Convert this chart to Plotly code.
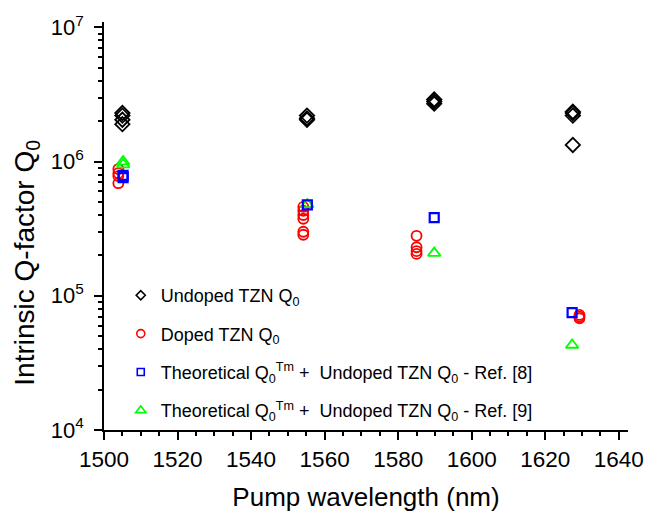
import plotly.graph_objects as go

# ---- data ----
undoped_x = [1505.0, 1505.0, 1505.0, 1505.0, 1555.2, 1555.2, 1555.2, 1589.8, 1589.8, 1589.8, 1627.5, 1627.5, 1627.5, 1627.5]
undoped_y = [2.3e6, 2.2e6, 2.05e6, 1.9e6, 2.2e6, 2.1e6, 2.05e6, 2.9e6, 2.8e6, 2.7e6, 2.35e6, 2.3e6, 2.2e6, 1.33e6]

doped_x = [1503.9, 1503.9, 1503.9, 1503.9, 1554.2, 1554.2, 1554.2, 1554.2, 1554.2, 1554.2, 1585.0, 1585.0, 1585.0, 1585.0, 1629.3, 1629.3, 1629.3]
doped_y = [8.8e5, 8.2e5, 7.8e5, 6.9e5, 4.6e5, 4.3e5, 4.0e5, 3.75e5, 3.0e5, 2.85e5, 2.8e5, 2.3e5, 2.15e5, 2.05e5, 7.2e4, 7.0e4, 6.8e4]

ref8_x = [1505.2, 1505.2, 1555.3, 1589.8, 1627.3]
ref8_y = [7.9e5, 7.6e5, 4.75e5, 3.82e5, 7.5e4]

ref9_x = [1505.2, 1505.2, 1555.3, 1589.8, 1627.3]
ref9_y = [1.0e6, 9.5e5, 4.8e5, 2.08e5, 4.3e4]

names = [
    "Undoped TZN Q<sub>0</sub>",
    "Doped TZN Q<sub>0</sub>",
    "Theoretical Q<sub>0</sub><sup>Tm</sup> +  Undoped TZN Q<sub>0</sub> - Ref. [8]",
    "Theoretical Q<sub>0</sub><sup>Tm</sup> +  Undoped TZN Q<sub>0</sub> - Ref. [9]",
]

x_major = [1500, 1520, 1540, 1560, 1580, 1600, 1620, 1640]
y_major = [1e4, 1e5, 1e6, 1e7]
y_major_text = ["10<sup>4</sup>", "10<sup>5</sup>", "10<sup>6</sup>", "10<sup>7</sup>"]
y_minor = [m * 10 ** e for e in range(4, 7) for m in range(2, 10)]

FONT = "Liberation Sans, Arial, sans-serif"

styles = [
    dict(symbol="diamond-open", color="black", size=11, lw=1.8, legsize=7),
    dict(symbol="circle-open", color="#FF0000", size=10, lw=1.8, legsize=8),
    dict(symbol="square-open", color="#0000FF", size=9, lw=2.2, legsize=7),
    dict(symbol="triangle-up-open", color="#00FF00", size=11, lw=1.8, legsize=9),
]
series = [(undoped_x, undoped_y), (doped_x, doped_y), (ref8_x, ref8_y), (ref9_x, ref9_y)]

fig = go.Figure()
# data traces (draw order: undoped, doped, ref9, ref8)
for i in [0, 1, 3, 2]:
    s = styles[i]
    fig.add_trace(go.Scatter(
        x=series[i][0], y=series[i][1], mode="markers", name=names[i], showlegend=False,
        legendgroup=f"g{i}",
        marker=dict(symbol=s["symbol"], size=s["size"], color=s["color"], line=dict(width=s["lw"], color=s["color"]))))
# legend entries (smaller symbols as in the reference)
for i in range(4):
    s = styles[i]
    fig.add_trace(go.Scatter(
        x=[None], y=[None], mode="markers", name=names[i], showlegend=True, legendgroup=f"g{i}",
        marker=dict(symbol=s["symbol"], size=s["legsize"], color=s["color"], line=dict(width=1.6, color=s["color"]))))

fig.update_layout(
    width=661, height=519,
    margin=dict(l=104, r=33, t=19, b=80),
    paper_bgcolor="white", plot_bgcolor="white",
    font=dict(family=FONT, color="black"),
    showlegend=True,
    legend=dict(x=0.032, y=0.375, xanchor="left", yanchor="top",
                bgcolor="rgba(0,0,0,0)", font=dict(size=18, family=FONT),
                itemsizing="trace", tracegroupgap=12, traceorder="grouped"),
    xaxis=dict(
        range=[1500, 1642.5], tickvals=x_major, showgrid=False, zeroline=False,
        showline=True, linecolor="black", linewidth=1.5,
        ticks="outside", ticklen=8, tickwidth=1.5, tickcolor="black",
        tickfont=dict(size=22.5, family=FONT),
        minor=dict(dtick=5, tick0=1500, ticks="outside", ticklen=4, tickwidth=1.5, tickcolor="black", showgrid=False),
        title=dict(text="Pump wavelength (nm)", font=dict(size=26, family=FONT), standoff=17),
    ),
    yaxis=dict(
        type="log", range=[4, 7.04], tickvals=y_major, ticktext=y_major_text,
        showgrid=False, zeroline=False,
        showline=True, linecolor="black", linewidth=1.5,
        ticks="outside", ticklen=8, tickwidth=1.5, tickcolor="black",
        tickfont=dict(size=22, family=FONT), ticklabelstandoff=6,
        minor=dict(tickvals=y_minor, ticks="outside", ticklen=4, tickwidth=1.5, tickcolor="black", showgrid=False),
    ),
    annotations=[dict(
        text="Intrinsic Q-factor Q<sub>0</sub>", textangle=-90,
        xref="paper", yref="paper", x=-0.147, y=0.41, xanchor="center", yanchor="middle",
        showarrow=False, font=dict(size=28, family=FONT),
    )],
)

fig.write_html("out.html")
